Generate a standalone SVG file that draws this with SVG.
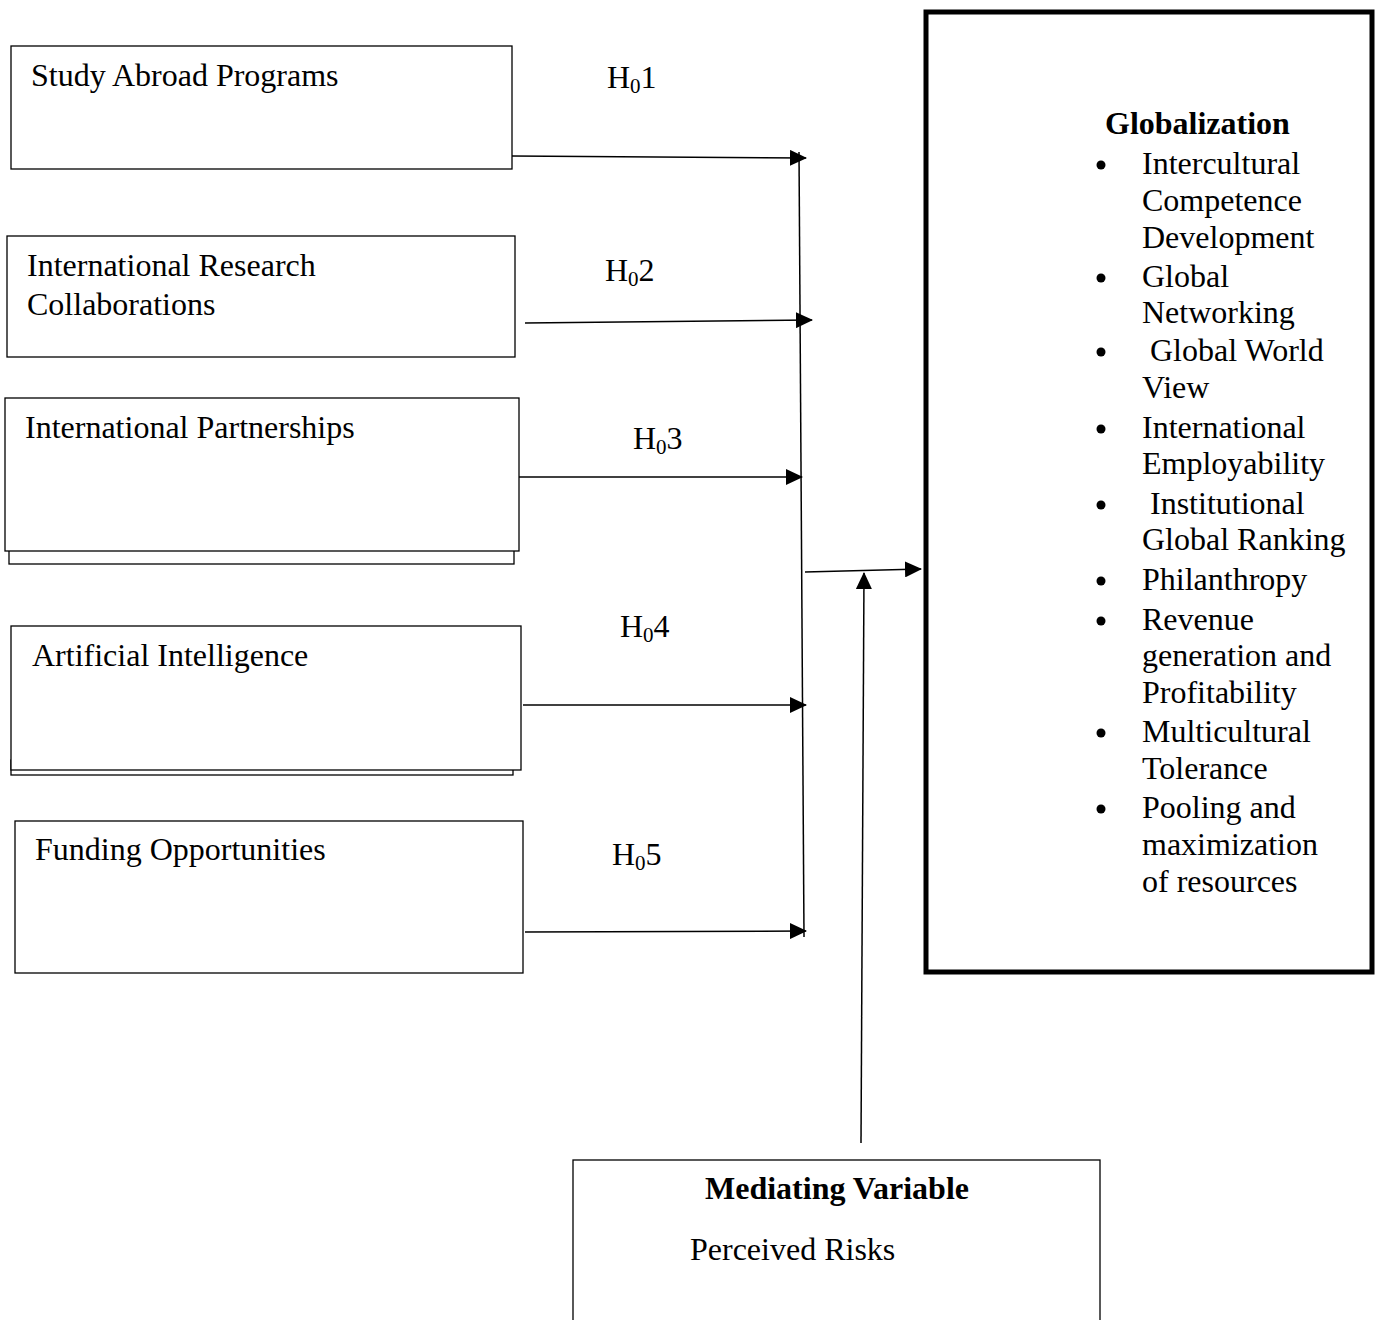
<svg xmlns="http://www.w3.org/2000/svg" width="1379" height="1320" viewBox="0 0 1379 1320">
<style>
text{font-family:"Liberation Serif","Times New Roman",serif;font-size:32px;fill:#000}
.b{font-weight:bold}
.box{fill:#fff;stroke:#000;stroke-width:1.3}
.ln{stroke:#000;stroke-width:1.5;fill:none}
.sub{font-size:21px}
</style>
<defs>
<marker id="ah" markerWidth="17" markerHeight="16" refX="16" refY="8" orient="auto" markerUnits="userSpaceOnUse">
<path d="M0,0 L17,8 L0,16 Z" fill="#000"/>
</marker>
</defs>
<rect width="1379" height="1320" fill="#fff"/>
<g id="n1"><rect class="box" x="11" y="46" width="501" height="123"/><text x="31" y="86">Study Abroad Programs</text></g>
<g id="n2"><rect class="box" x="7" y="236" width="508" height="121"/><text x="27" y="276">International Research</text><text x="27" y="315">Collaborations</text></g>
<g id="n3"><rect class="box" x="9" y="540" width="505" height="24"/><rect class="box" x="5" y="398" width="514" height="153"/><text x="25" y="438">International Partnerships</text></g>
<g id="n4"><rect class="box" x="11" y="760" width="502" height="15"/><rect class="box" x="11" y="626" width="510" height="144"/><text x="32" y="666">Artificial Intelligence</text></g>
<g id="n5"><rect class="box" x="15" y="821" width="508" height="152"/><text x="35" y="860">Funding Opportunities</text></g>
<g id="n6"><rect x="926" y="12" width="446" height="960" fill="#fff" stroke="#000" stroke-width="5"/>
<text class="b" x="1105" y="134">Globalization</text>
<g fill="#000"><circle cx="1101" cy="165" r="4.5"/><circle cx="1101" cy="278" r="4.5"/><circle cx="1101" cy="352" r="4.5"/><circle cx="1101" cy="429" r="4.5"/><circle cx="1101" cy="505" r="4.5"/><circle cx="1101" cy="581" r="4.5"/><circle cx="1101" cy="621" r="4.5"/><circle cx="1101" cy="733" r="4.5"/><circle cx="1101" cy="809" r="4.5"/></g>
<text x="1142" y="174">Intercultural</text>
<text x="1142" y="211">Competence</text>
<text x="1142" y="248">Development</text>
<text x="1142" y="287">Global</text>
<text x="1142" y="323">Networking</text>
<text x="1150" y="361">Global World</text>
<text x="1142" y="398">View</text>
<text x="1142" y="438">International</text>
<text x="1142" y="474">Employability</text>
<text x="1150" y="514">Institutional</text>
<text x="1142" y="550">Global Ranking</text>
<text x="1142" y="590">Philanthropy</text>
<text x="1142" y="630">Revenue</text>
<text x="1142" y="666">generation and</text>
<text x="1142" y="703">Profitability</text>
<text x="1142" y="742">Multicultural</text>
<text x="1142" y="779">Tolerance</text>
<text x="1142" y="818">Pooling and</text>
<text x="1142" y="855">maximization</text>
<text x="1142" y="892">of resources</text>
</g>
<g id="n7"><rect class="box" x="573" y="1160" width="527" height="170"/><text class="b" x="837" y="1199" text-anchor="middle">Mediating Variable</text><text x="690" y="1260">Perceived Risks</text></g>
<g id="labels">
<text x="607" y="88">H<tspan class="sub" dy="5">0</tspan><tspan dy="-5">1</tspan></text>
<text x="605" y="281">H<tspan class="sub" dy="5">0</tspan><tspan dy="-5">2</tspan></text>
<text x="633" y="449">H<tspan class="sub" dy="5">0</tspan><tspan dy="-5">3</tspan></text>
<text x="620" y="637">H<tspan class="sub" dy="5">0</tspan><tspan dy="-5">4</tspan></text>
<text x="612" y="865">H<tspan class="sub" dy="5">0</tspan><tspan dy="-5">5</tspan></text>
</g>
<g id="connectors">
<line class="ln" x1="799" y1="152" x2="804" y2="937"/>
<line class="ln" x1="512" y1="156" x2="806" y2="158" marker-end="url(#ah)"/>
<line class="ln" x1="525" y1="323" x2="812" y2="320" marker-end="url(#ah)"/>
<line class="ln" x1="519" y1="477" x2="802" y2="477" marker-end="url(#ah)"/>
<line class="ln" x1="523" y1="705" x2="806" y2="705" marker-end="url(#ah)"/>
<line class="ln" x1="525" y1="932" x2="806" y2="931" marker-end="url(#ah)"/>
<line class="ln" x1="805" y1="572" x2="921" y2="569" marker-end="url(#ah)"/>
<line class="ln" x1="861" y1="1143" x2="864" y2="573" marker-end="url(#ah)"/>
</g>
</svg>
